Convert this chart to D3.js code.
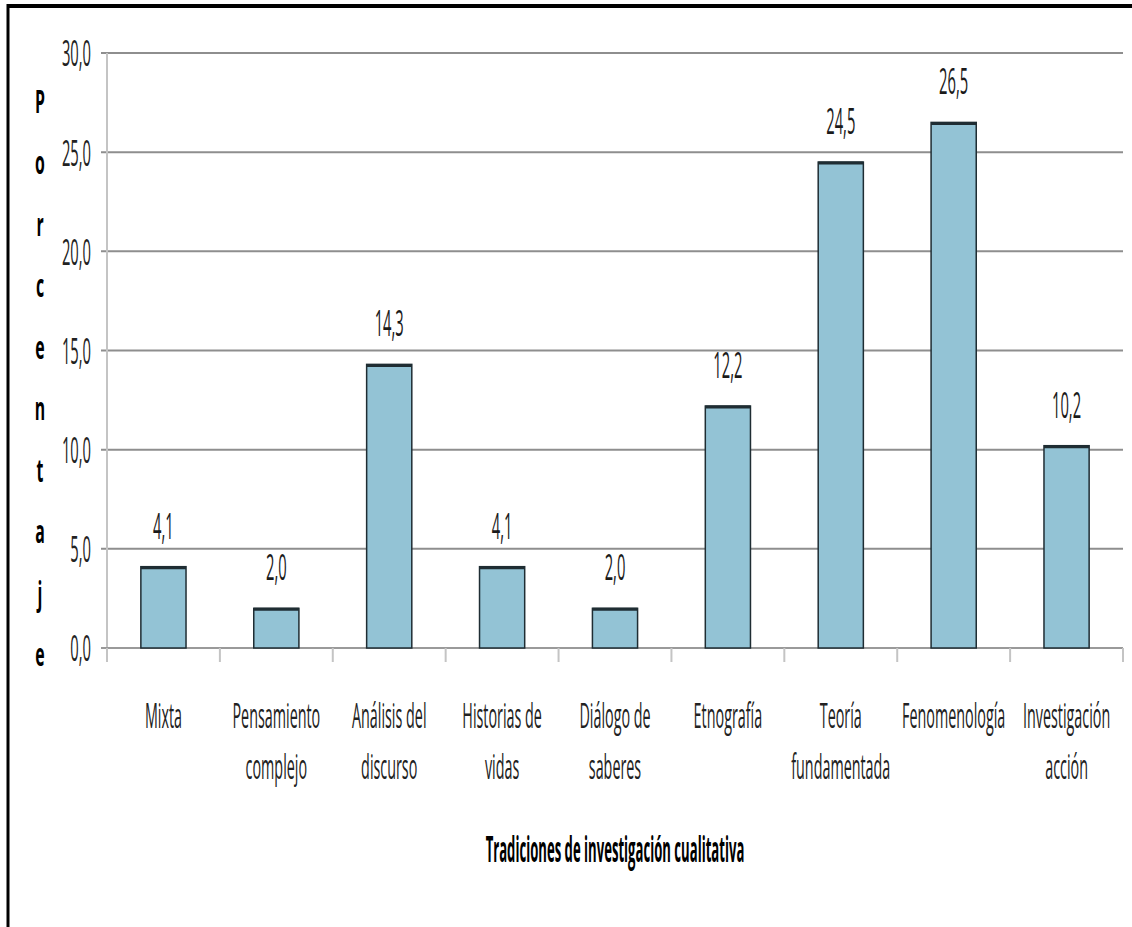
<!DOCTYPE html>
<html>
<head>
<meta charset="utf-8">
<script src="https://cdn.jsdelivr.net/npm/d3@7"></script>
<style>
  body { margin: 0; background: #fff; }
  svg { display: block; font-family: "Open Sans", "Liberation Sans", sans-serif; }
</style>
</head>
<body>
<script>
(function(){

	//chart data
	var categories = [["Mixta"], ["Pensamiento", "complejo"], ["Análisis del", "discurso"], ["Historias de", "vidas"], ["Diálogo de", "saberes"], ["Etnografía"], ["Teoría", "fundamentada"], ["Fenomenología"], ["Investigación", "acción"]];
	var values = [4.1, 2.0, 14.3, 4.1, 2.0, 12.2, 24.5, 26.5, 10.2];
	var yTicks = [0, 5, 10, 15, 20, 25, 30];
	var yTitle = "Porcentaje";
	var xTitle = "Tradiciones de investigación cualitativa";

	var sx = 0.41; //horizontal squash of all text

	var width = 1132, height = 927;
	var margin = {left: 107, right: 9, top: 53, bottom: 279};

	var svg = d3.select("body").append("svg")
		.attr("width", width)
		.attr("height", height);

	//outer frame (top and left edges)
	svg.append("line").attr("x1", 7).attr("x2", width).attr("y1", 6).attr("y2", 6)
		.attr("stroke", "#000").attr("stroke-width", 4);
	svg.append("line").attr("x1", 8).attr("x2", 8).attr("y1", 4).attr("y2", height)
		.attr("stroke", "#000").attr("stroke-width", 3);

	var x = d3.scaleBand()
		.domain(d3.range(categories.length))
		.range([margin.left, width - margin.right])
		.padding(0);

	var y = d3.scaleLinear()
		.domain([0, 30])
		.range([height - margin.bottom, margin.top]);

	//gridlines
	svg.selectAll(".grid")
		.data(yTicks)
		.enter()
		.append("line")
		.attr("class", "grid")
		.attr("x1", margin.left - 6)
		.attr("x2", width - margin.right)
		.attr("y1", function(d){ return y(d); })
		.attr("y2", function(d){ return y(d); })
		.attr("stroke", "#8e8e8e")
		.attr("stroke-width", 2);

	//y axis
	var yAxis = svg.append("g")
		.attr("transform", "translate(" + margin.left + ",0)")
		.call(d3.axisLeft(y).tickValues(yTicks).tickSize(0).tickPadding(0)
			.tickFormat(function(d){ return d.toFixed(1).replace(".", ","); }));
	yAxis.select(".domain").remove();
	yAxis.selectAll("text")
		.attr("x", -16 / sx)
		.attr("dy", "0.36em")
		.attr("transform", "scale(" + sx + ",1)")
		.attr("font-size", 36)
		.attr("font-family", "'Open Sans', sans-serif")
		.attr("fill", "#222");
	svg.append("line").attr("x1", margin.left).attr("x2", margin.left)
		.attr("y1", margin.top).attr("y2", y(0) + 14)
		.attr("stroke", "#c4c4c4").attr("stroke-width", 2);

	//x axis line + category ticks
	svg.append("line").attr("x1", margin.left - 6).attr("x2", width - margin.right)
		.attr("y1", y(0)).attr("y2", y(0))
		.attr("stroke", "#9a9a9a").attr("stroke-width", 2);
	var tickPos = d3.range(categories.length + 1).map(function(i){ return margin.left + i * x.step(); });
	svg.selectAll(".xtick")
		.data(tickPos)
		.enter()
		.append("line")
		.attr("x1", function(d){ return d; })
		.attr("x2", function(d){ return d; })
		.attr("y1", y(0))
		.attr("y2", y(0) + 14)
		.attr("stroke", "#c4c4c4")
		.attr("stroke-width", 2);

	//bars
	var barW = x.bandwidth() * 0.4;
	var bars = svg.selectAll(".bar")
		.data(values)
		.enter()
		.append("g")
		.attr("class", "bar");
	bars.append("rect")
		.attr("x", function(d, i){ return x(i) + (x.bandwidth() - barW) / 2; })
		.attr("y", function(d){ return y(d); })
		.attr("width", barW)
		.attr("height", function(d){ return y(0) - y(d); })
		.attr("fill", "#93c3d5")
		.attr("stroke", "#1f2d33")
		.attr("stroke-width", 1.5);
	bars.append("line")
		.attr("x1", function(d, i){ return x(i) + (x.bandwidth() - barW) / 2; })
		.attr("x2", function(d, i){ return x(i) + (x.bandwidth() + barW) / 2; })
		.attr("y1", function(d){ return y(d) + 1; })
		.attr("y2", function(d){ return y(d) + 1; })
		.attr("stroke", "#1f2d33")
		.attr("stroke-width", 3);

	//value labels
	svg.selectAll(".numbers")
		.data(values)
		.enter()
		.append("text")
		.attr("class", "numbers")
		.attr("transform", function(d, i){
			return "translate(" + (x(i) + x.bandwidth() / 2) + "," + (y(d) - 28) + ") scale(" + sx + ",1)";
		})
		.attr("text-anchor", "middle")
		.attr("font-size", 36)
		.attr("fill", "#1a1a1a")
		.text(function(d){ return d.toFixed(1).replace(".", ","); });

	//category labels
	var catLabels = svg.selectAll(".cat")
		.data(categories)
		.enter()
		.append("text")
		.attr("class", "cat")
		.attr("transform", function(d, i){
			return "translate(" + (x(i) + x.bandwidth() / 2) + "," + (y(0) + 80) + ") scale(" + sx + ",1)";
		})
		.attr("text-anchor", "middle")
		.attr("font-size", 35)
		.attr("fill", "#222");
	catLabels.selectAll("tspan")
		.data(function(d){ return d; })
		.enter()
		.append("tspan")
		.attr("x", 0)
		.attr("dy", function(d, i){ return i == 0 ? 0 : 51; })
		.text(function(d){ return d; });

	//x title
	svg.append("text")
		.attr("transform", "translate(" + 615 + "," + 862 + ") scale(" + 0.375 + ",1)")
		.attr("text-anchor", "middle")
		.attr("font-size", 35)
		.attr("font-weight", "bold")
		.attr("fill", "#000")
		.text(xTitle);

	//y title, letters stacked vertically
	var yt = svg.append("text")
		.attr("transform", "translate(40,113) scale(0.48,1)")
		.attr("text-anchor", "middle")
		.attr("font-size", 33)
		.attr("font-weight", "bold")
		.attr("fill", "#000");
	yt.selectAll("tspan")
		.data(yTitle.split(""))
		.enter()
		.append("tspan")
		.attr("x", 0)
		.attr("dy", function(d, i){ return i == 0 ? 0 : 61.5; })
		.text(function(d){ return d; });

})();
</script>
</body>
</html>
